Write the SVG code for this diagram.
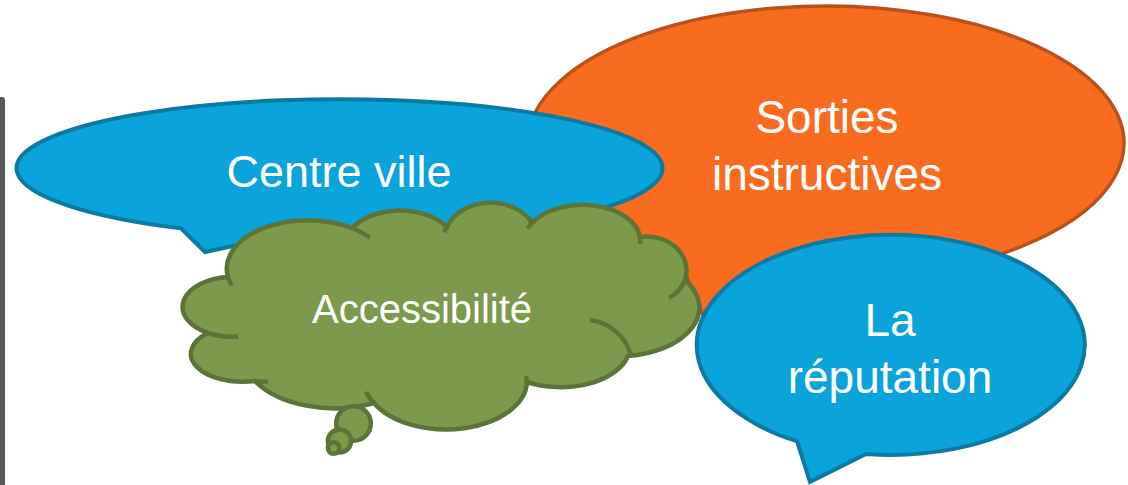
<svg xmlns="http://www.w3.org/2000/svg" width="1128" height="485" viewBox="0 0 1128 485">
<style>
.blue{fill:#0AA3DA;stroke:#0B7AA3;stroke-width:4;stroke-linejoin:miter}
.orange{fill:#F96B1E;stroke:#B9521A;stroke-width:3.5;stroke-linejoin:miter}
.cloud{fill:#7D994C;stroke:#5B7336;stroke-width:4.5;stroke-linejoin:round}
.stub{fill:none;stroke:#5B7336;stroke-width:4.5}
.t{font-family:"Liberation Sans",Arial,sans-serif;fill:#FFFFFF;text-anchor:middle}
</style>
<rect width="1128" height="485" fill="#FFFFFF"/>
<path id="edge-bar" d="M0 97 H2 Q5 97 5 100 V485 H0 Z" fill="#58595B"/>
<g id="connectors"></g>
<g id="node-sorties">
<path class="orange" d="M681 262.7 A298 137 0 1 1 760 276.6 L722 360 Z"/>
<text class="t" font-size="46" x="827" y="133">Sorties</text>
<text class="t" font-size="46" x="827" y="190">instructives</text>
</g>
<g id="node-centre-ville">
<path class="blue" d="M181 228.3 A323 69 0 1 1 280 236 L205 252 Z"/>
<text class="t" font-size="45" x="339" y="187">Centre ville</text>
</g>
<g id="node-reputation">
<path class="blue" d="M797 441.2 A194 110 0 1 1 866 454 L810 482 Z"/>
<text class="t" font-size="46" x="890" y="336">La</text>
<text class="t" font-size="46" x="890" y="393">réputation</text>
</g>
<g id="node-accessibilite">
<path class="cloud" d="M228 277 A81 48.5 0 0 1 352 228 A58 40 0 0 1 447 227 A46 36 0 0 1 532 223 A58 36 0 0 1 640 237 A40 34 0 0 1 685 280 A81 48.7 0 0 1 628 356 A69.5 41.5 0 0 1 527 382 A81 48.7 0 0 1 374 403 A92.7 55.7 0 0 1 255 381 A52 28 0 0 1 208 333 A50 30 0 0 1 228 277 Z"/>
<path class="stub" d="M231.7 285.3 A81 48.5 0 0 1 228 277 M352 228 A81 48.5 0 0 1 369.8 237.5 M444.2 232.5 A46 36 0 0 1 447 227 M527.8 228.6 A58 36 0 0 1 532 223 M640 237 L640.1 244 M685 280 A40 34 0 0 1 669 298 M590 320 A49 49 0 0 1 631 355 M526.2 376.2 L527 382 M374 403 A81 48.7 0 0 1 366 392 M268 381.5 A52 28 0 0 1 255 381 M238 336.6 A50 30 0 0 1 208 333"/>
<circle class="cloud" cx="353.5" cy="423.5" r="17.3"/>
<circle class="cloud" cx="339.5" cy="441" r="11.6"/>
<circle class="cloud" cx="333.7" cy="448" r="5.8"/>
<text class="t" font-size="40" x="422" y="323">Accessibilité</text>
</g>
</svg>
